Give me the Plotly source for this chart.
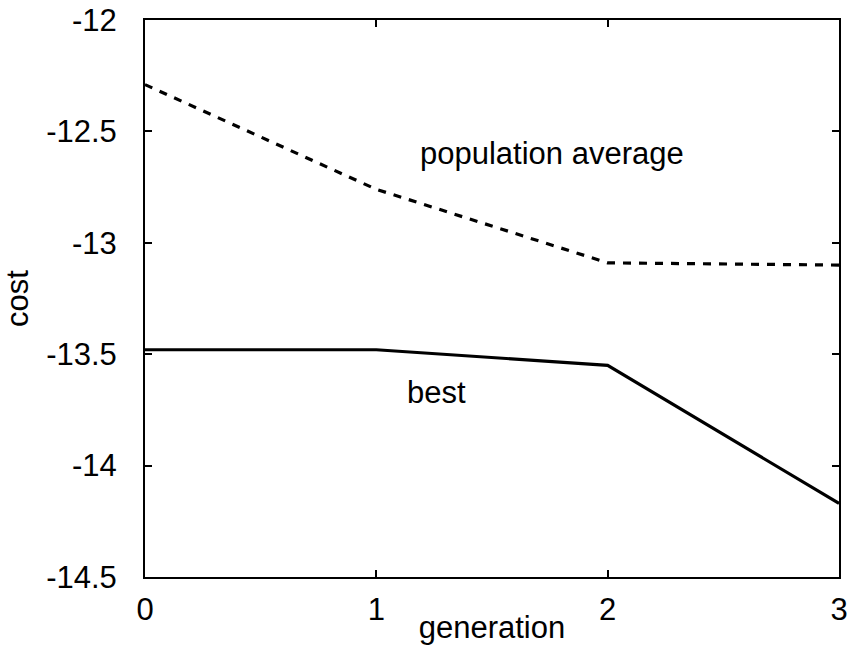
import plotly.graph_objects as go

generation = [0, 1, 2, 3]
population_average = [-12.29, -12.76, -13.09, -13.10]
best = [-13.48, -13.48, -13.55, -14.17]

x_ticks = [0, 1, 2, 3]
y_ticks = [-14.5, -14, -13.5, -13, -12.5, -12]
y_tick_labels = ["-14.5", "-14", "-13.5", "-13", "-12.5", "-12"]

FONT = "Liberation Sans, Arial, sans-serif"
FS = 31

fig = go.Figure()
fig.add_trace(go.Scatter(x=generation, y=population_average, mode="lines",
                         line=dict(color="black", width=3.2, dash="8px,8px"),
                         name="population average", showlegend=False))
fig.add_trace(go.Scatter(x=generation, y=best, mode="lines",
                         line=dict(color="black", width=3.2),
                         name="best", showlegend=False))

fig.add_annotation(x=1.76, y=-12.60, text="population average", showarrow=False,
                   font=dict(family=FONT, size=FS, color="black"), xanchor="center", yanchor="middle")
fig.add_annotation(x=1.26, y=-13.67, text="best", showarrow=False,
                   font=dict(family=FONT, size=FS, color="black"), xanchor="center", yanchor="middle")

axis_common = dict(showline=True, linecolor="black", linewidth=2, mirror="ticks",
                   ticks="inside", ticklen=7, tickwidth=1.5, tickcolor="black",
                   showgrid=False, zeroline=False, automargin=False,
                   ticklabeloverflow="allow",
                   tickfont=dict(family=FONT, size=FS, color="black"))

fig.update_xaxes(range=[0, 3], tickvals=x_ticks, ticktext=[str(v) for v in x_ticks],
                 title=dict(text="generation", font=dict(family=FONT, size=FS, color="black"), standoff=0),
                 ticklabelstandoff=4, **axis_common)
fig.update_yaxes(range=[-14.5, -12], tickvals=y_ticks, ticktext=y_tick_labels,
                 title=dict(text="cost", font=dict(family=FONT, size=FS, color="black"), standoff=8),
                 ticklabelstandoff=20, **axis_common)

fig.update_layout(width=851, height=645, margin=dict(l=145, r=12, t=20, b=68),
                  plot_bgcolor="white", paper_bgcolor="white", showlegend=False)

fig.write_html("out.html", config={"displayModeBar": False},
               post_script="document.body.style.margin='0';")
